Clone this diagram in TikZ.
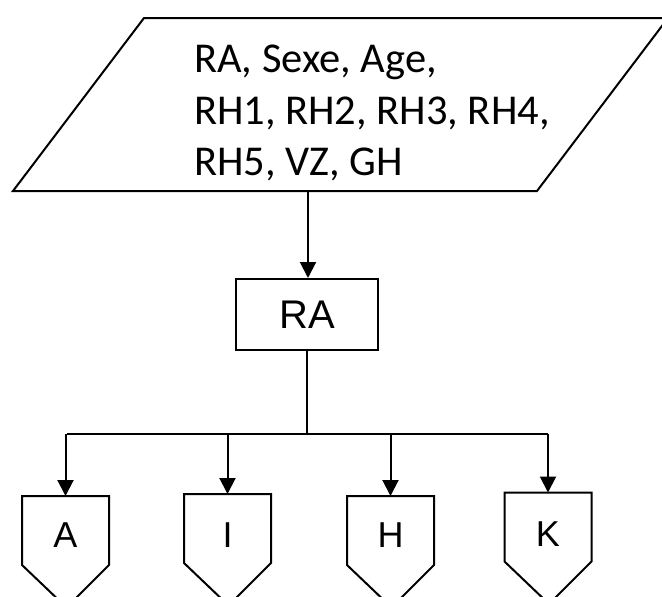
\documentclass[tikz,border=0pt]{standalone}
\usepackage{fontspec}
\setmainfont{Carlito}
\newfontfamily\arialfont{Liberation Sans}
\usetikzlibrary{arrows.meta}
\tikzset{
	rabox/.style={draw,minimum width=142pt,minimum height=71pt,inner sep=0pt,font=\arialfont\fontsize{40}{40}\selectfont},
	leaf/.style={minimum width=85pt,minimum height=67pt,inner sep=0pt,text height=34pt,text depth=0pt,font=\arialfont\fontsize{36}{36}\selectfont},
	arr/.style={-{Triangle[length=16pt,width=16pt]}},
}
\begin{document}
\begin{tikzpicture}[x=1pt,y=-1pt,line join=miter,line width=2pt]
	\useasboundingbox (0,0) rectangle (662,597);
	\clip (0,0) rectangle (662,597);
	\path
	(13,191) coordinate (P1)
	(537,191) coordinate (P2)
	(668,18) coordinate (P3)
	(144,18) coordinate (P4)
	(308,191) coordinate (pout)
	(67,434) coordinate (busL)
	(548,434) coordinate (busR)
	;
	\draw (P1)--(P2)--(P3)--(P4)--cycle;
	\node[anchor=north west,inner sep=0pt,align=left,font=\fontsize{42.5}{51.5}\selectfont] (vars) at (193,44) {RA, Sexe, Age,\\RH1, RH2, RH3, RH4,\\RH5, VZ, GH};
	\node[rabox] (ra) at (307,314.5) {RA};
	\node[leaf] (a) at (65.5,530.5) {A};
	\node[leaf,text height=38pt] (i) at (227.5,528.5) {I};
	\node[leaf] (h) at (390.5,530.5) {H};
	\node[leaf,text height=38pt] (k) at (548,527) {K};
	\foreach \n in {a,i,h,k}
	\draw (\n.south west)--(\n.north west)--(\n.north east)--(\n.south east)--++(-42.5,42.5)--cycle;
	\draw[arr] (pout)--(pout |- ra.north);
	\draw (ra.south)--(ra.south |- busL) (busL)--(busR);
	\foreach \n in {a,i,h,k}
	\draw[arr] (\n.north |- busL)--(\n.north);
\end{tikzpicture}
\end{document}
